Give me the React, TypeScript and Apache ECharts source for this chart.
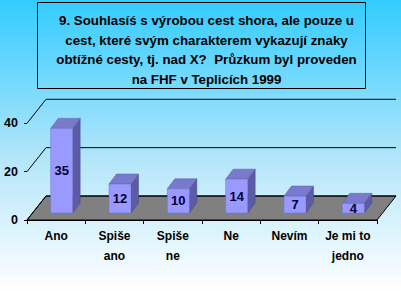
import React, { useEffect, useRef } from "react";
import * as echarts from "echarts";

const titleLines = [
  "9. Souhlasíś s výrobou cest shora, ale pouze u",
  "cest, které svým charakterem vykazují znaky",
  "obtížné cesty, tj. nad X?  Průzkum byl proveden",
  "na FHF v Teplicích 1999",
];
const categories = ["Ano", "Spiše\nano", "Spiše\nne", "Ne", "Nevím", "Je mi to\njedno"];
const values = [35, 12, 10, 14, 7, 4];
const yTicks = [0, 20, 40];

const DEPTH_X = 19;
const DEPTH_Y = -24;
const BAR_W = 22;
const BAR_DX = 7.5;
const BAR_DY = -10;
const BAR_SHIFT_X = 5.5;
const BAR_SHIFT_Y = -7;

export default function App() {
  const ref = useRef<HTMLDivElement>(null);
  useEffect(() => {
    if (!ref.current) return;
    const chart = echarts.init(ref.current, undefined, { renderer: "svg" });
    const font = "'Liberation Sans', Arial, sans-serif";
    chart.setOption({
      animation: false,
      backgroundColor: new echarts.graphic.LinearGradient(0, 0, 0, 1, [
        { offset: 0, color: "#33ccff" },
        { offset: 0.55, color: "#b4e6fa" },
        { offset: 1, color: "#ffffff" },
      ]),
      title: {
        text: titleLines.join("\n"),
        left: 201.5,
        top: 6,
        textAlign: "center",
        textStyle: {
          fontFamily: font,
          fontSize: 13.3,
          fontWeight: "bold",
          color: "#000",
          lineHeight: 19.5,
        },
      },
      graphic: [
        {
          type: "rect",
          shape: { x: 37.5, y: 2.5, width: 328, height: 86 },
          style: { fill: "none", stroke: "#000", lineWidth: 1 },
          silent: true,
        },
      ],
      grid: { left: 27, right: 24, top: 123.3, bottom: 71, containLabel: false },
      xAxis: {
        type: "category",
        data: categories,
        axisLine: { show: true, lineStyle: { color: "#000", width: 1 } },
        axisTick: { show: true, interval: 0, length: 4, lineStyle: { color: "#000" } },
        axisLabel: {
          interval: 0,
          margin: 6,
          fontFamily: font,
          fontSize: 12,
          fontWeight: "bold",
          color: "#000",
          lineHeight: 20,
        },
        splitLine: { show: false },
      },
      yAxis: {
        type: "value",
        min: 0,
        max: 40,
        interval: 20,
        axisLine: { show: false },
        axisTick: { show: true, length: 3, lineStyle: { color: "#000" } },
        axisLabel: {
          margin: 9,
          fontFamily: font,
          fontSize: 12.5,
          fontWeight: "bold",
          color: "#000",
        },
        splitLine: { show: false },
      },
      series: [
        {
          type: "custom",
          z: 1,
          silent: true,
          data: [[0, 0]],
          renderItem: (params: any, api: any) => {
            const cs = params.coordSys;
            const x0 = cs.x;
            const x1 = cs.x + cs.width;
            const yf = api.coord([0, 0])[1];
            const children: any[] = [];
            children.push({
              type: "polygon",
              shape: {
                points: [
                  [x0, yf],
                  [x1, yf],
                  [x1 + DEPTH_X, yf + DEPTH_Y],
                  [x0 + DEPTH_X, yf + DEPTH_Y],
                ],
              },
              style: { fill: "#808080", stroke: "#000", lineWidth: 1 },
            });
            yTicks.forEach((t) => {
              const y = api.coord([0, t])[1];
              children.push({
                type: "polyline",
                shape: {
                  points: [
                    [x0, y],
                    [x0 + DEPTH_X, y + DEPTH_Y],
                    [x1 + DEPTH_X, y + DEPTH_Y],
                  ],
                },
                style: { fill: "none", stroke: "#000", lineWidth: 1 },
              });
            });
            return { type: "group", children };
          },
        },
        {
          type: "custom",
          z: 2,
          silent: true,
          data: values.map((v, i) => [i, v]),
          encode: { x: 0, y: 1 },
          renderItem: (params: any, api: any) => {
            const i = api.value(0);
            const v = api.value(1);
            const base = api.coord([i, 0]);
            const top = api.coord([i, v]);
            const cx = base[0] + BAR_SHIFT_X;
            const xl = cx - BAR_W / 2;
            const xr = cx + BAR_W / 2;
            const yb = base[1] + BAR_SHIFT_Y;
            const yt = top[1] + BAR_SHIFT_Y;
            return {
              type: "group",
              children: [
                {
                  type: "polygon",
                  shape: {
                    points: [
                      [xr, yt],
                      [xr + BAR_DX, yt + BAR_DY],
                      [xr + BAR_DX, yb + BAR_DY],
                      [xr, yb],
                    ],
                  },
                  style: { fill: "#5c5ca6", stroke: "#4a4a8a", lineWidth: 0.5 },
                },
                {
                  type: "polygon",
                  shape: {
                    points: [
                      [xl, yt],
                      [xr, yt],
                      [xr + BAR_DX, yt + BAR_DY],
                      [xl + BAR_DX, yt + BAR_DY],
                    ],
                  },
                  style: { fill: "#7a7acc", stroke: "#5a5aa0", lineWidth: 0.5 },
                },
                {
                  type: "rect",
                  shape: { x: xl, y: yt, width: BAR_W, height: yb - yt },
                  style: { fill: "#9999ff", stroke: "#7070c0", lineWidth: 0.5 },
                },
                {
                  type: "text",
                  style: {
                    text: String(v),
                    x: cx,
                    y: (yt + yb) / 2,
                    align: "center",
                    verticalAlign: "middle",
                    fontFamily: font,
                    fontSize: 13,
                    fontWeight: "bold",
                    fill: "#000033",
                  },
                },
              ],
            };
          },
        },
      ],
    });
    return () => chart.dispose();
  }, []);
  return (
    <div
      ref={ref}
      style={{ position: "fixed", left: 0, top: 0, width: 401, height: 291 }}
    />
  );
}
